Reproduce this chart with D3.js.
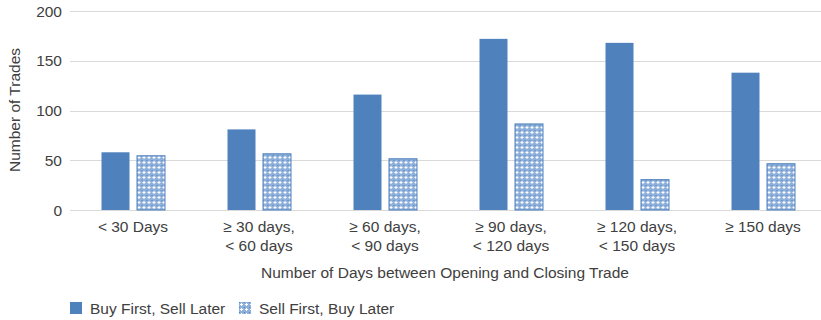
<!DOCTYPE html>
<html>
<head>
<meta charset="utf-8">
<script src="https://cdn.jsdelivr.net/npm/d3@7"></script>
<style>
  body { margin: 0; background: #fff; }
  svg text { font-family: "Liberation Sans", Arial, sans-serif; fill: #404040; font-size: 15.5px; }
</style>
</head>
<body>
<svg id="chart" width="821" height="320"></svg>
<script>
var categories = [
  ["< 30 Days"],
  ["\u2265 30 days,", "< 60 days"],
  ["\u2265 60 days,", "< 90 days"],
  ["\u2265 90 days,", "< 120 days"],
  ["\u2265 120 days,", "< 150 days"],
  ["\u2265 150 days"]
];
var seriesNames = ["Buy First, Sell Later", "Sell First, Buy Later"];
var buyFirst = [58, 81, 116, 172, 168, 138];
var sellFirst = [55, 57, 52, 87, 31, 47];
var yTicks = [0, 50, 100, 150, 200];

var blue = "#4f81bd";
var svg = d3.select("#chart");

// pattern for the second series
var defs = svg.append("defs");
var pat = defs.append("pattern")
  .attr("id", "dots")
  .attr("width", 5).attr("height", 5)
  .attr("patternUnits", "userSpaceOnUse");
pat.append("rect").attr("width", 5).attr("height", 5).attr("fill", "#8fb0da");
pat.append("rect").attr("x", 1).attr("y", 2).attr("width", 3).attr("height", 1).attr("fill", "#fff");
pat.append("rect").attr("x", 2).attr("y", 1).attr("width", 1).attr("height", 3).attr("fill", "#fff");
pat.append("rect").attr("x", 0).attr("y", 0).attr("width", 1).attr("height", 1).attr("fill", blue);

var x0 = d3.scaleBand()
  .domain(d3.range(categories.length))
  .range([70, 826])
  .paddingInner(0.5)
  .paddingOuter(0.25);

var x1 = d3.scaleBand()
  .domain([0, 1])
  .range([0, x0.bandwidth()])
  .paddingInner(0.2);

var y = d3.scaleLinear()
  .domain([0, 200])
  .range([210, 11]);

// gridlines
svg.append("g").selectAll("line")
  .data(yTicks)
  .enter().append("line")
  .attr("x1", 70).attr("x2", 821)
  .attr("y1", d => Math.round(y(d)) + 0.5)
  .attr("y2", d => Math.round(y(d)) + 0.5)
  .attr("stroke", "#d9d9d9")
  .attr("stroke-width", 1);

// y tick labels
svg.append("g").selectAll("text")
  .data(yTicks)
  .enter().append("text")
  .attr("x", 62)
  .attr("y", d => y(d) + 5.5)
  .attr("text-anchor", "end")
  .text(d => d);

// bars
var groups = svg.append("g").selectAll("g")
  .data(categories.map((c, i) => [buyFirst[i], sellFirst[i]]))
  .enter().append("g")
  .attr("transform", (d, i) => "translate(" + x0(i) + ",0)");

groups.append("rect")
  .attr("x", x1(0))
  .attr("y", d => y(d[0]))
  .attr("width", x1.bandwidth())
  .attr("height", d => y(0) - y(d[0]))
  .attr("fill", blue);

groups.append("rect")
  .attr("x", x1(1) + 0.5)
  .attr("y", d => y(d[1]) + 0.5)
  .attr("width", x1.bandwidth())
  .attr("height", d => y(0) - y(d[1]) - 0.5)
  .attr("fill", "url(#dots)")
  .attr("stroke", blue)
  .attr("stroke-width", 1);

// x labels
var xl = svg.append("g").selectAll("text")
  .data(categories)
  .enter().append("text")
  .attr("x", (d, i) => x0(i) + x0.bandwidth() / 2)
  .attr("y", 232)
  .attr("text-anchor", "middle");
xl.selectAll("tspan")
  .data(d => d)
  .enter().append("tspan")
  .attr("x", function () { return d3.select(this.parentNode).attr("x"); })
  .attr("dy", (d, i) => i === 0 ? 0 : 19)
  .text(d => d);

// axis titles
svg.append("text")
  .attr("x", 445).attr("y", 278)
  .attr("text-anchor", "middle")
  .text("Number of Days between Opening and Closing Trade");

svg.append("text")
  .attr("transform", "translate(20,110) rotate(-90)")
  .attr("text-anchor", "middle")
  .text("Number of Trades");

// legend
var legendX = [70, 239];
var lg = svg.append("g").selectAll("g")
  .data(seriesNames)
  .enter().append("g")
  .attr("transform", (d, i) => "translate(" + legendX[i] + ",302)");
lg.append("rect")
  .attr("width", 12).attr("height", 12)
  .attr("fill", (d, i) => i === 0 ? blue : "url(#dots)");
lg.append("text")
  .attr("x", 20).attr("y", 12)
  .text(d => d);
</script>
</body>
</html>
